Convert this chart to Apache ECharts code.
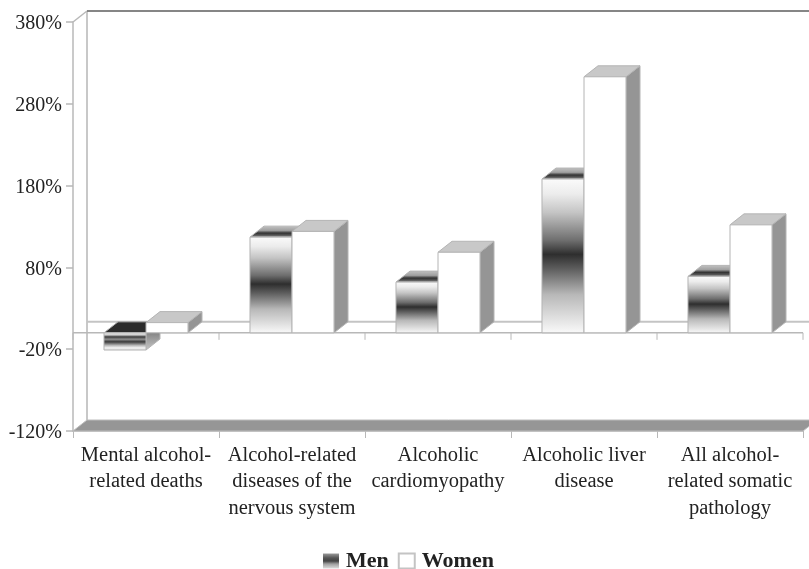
<!DOCTYPE html>
<html>
<head>
<meta charset="utf-8">
<style>html,body{margin:0;padding:0;background:#fff}#chart{width:809px;height:569px}</style>
<script src="https://cdn.jsdelivr.net/npm/echarts@6/dist/echarts.min.js"></script>
</head>
<body>
<div id="chart"></div>
<script>
// Percentage change by cause of death, with a drawn 3D column look.
const categories = [
  'Mental alcohol-\nrelated deaths',
  'Alcohol-related\ndiseases of the\nnervous system',
  'Alcoholic\ncardiomyopathy',
  'Alcoholic liver\ndisease',
  'All alcohol-\nrelated somatic\npathology'
];
const menValues = [-21, 117, 62, 188, 69];
const womenValues = [12.5, 124, 98.5, 313, 132];
const axisMin = -120;
const axisMax = 380;
const axisStep = 100;

const DEPTH_X = 14, DEPTH_Y = 11;
const BAR_SHARE = 0.2877;
const EDGE = '#b4b4b4';
const TEXT = '#222222';
const FONT = '"Liberation Serif", serif';

function vGrad(stops) {
  return {
    type: 'linear', x: 0, y: 0, x2: 0, y2: 1,
    colorStops: stops.map(s => ({ offset: s[0], color: s[1] }))
  };
}
const menFront = vGrad([[0, '#fbfbfb'], [0.1, '#ececec'], [0.22, '#c4c4c4'], [0.4, '#6e6e6e'], [0.49, '#2e2e2e'], [0.58, '#5c5c5c'], [0.75, '#b8b8b8'], [1, '#fafafa']]);
const menFrontNeg = vGrad([[0, '#f4f4f4'], [0.14, '#cfcfcf'], [0.25, '#3a3a3a'], [0.38, '#8e8e8e'], [0.52, '#3a3a3a'], [0.72, '#b8b8b8'], [0.85, '#f2f2f2'], [1, '#d8d8d8']]);
const menTop = vGrad([[0, '#c4c4c4'], [0.4, '#a0a0a0'], [0.62, '#333333'], [0.8, '#555555'], [1, '#b8b8b8']]);
const menSideNeg = vGrad([[0, '#5a5a5a'], [1, '#c8c8c8']]);
const menMarker = vGrad([[0, '#9a9a9a'], [0.3, '#555555'], [0.5, '#444444'], [0.7, '#a0a0a0'], [1, '#dddddd']]);

function poly(points, style) {
  return { type: 'polygon', shape: { points }, style };
}

function barShape(api, offsetSign, front, side, topFill) {
  const i = api.value(0), v = api.value(1);
  const band = api.size([1, 0])[0];
  const w = band * BAR_SHARE;
  const cx = api.coord([i, 0])[0];
  const y0 = api.coord([i, 0])[1];
  const yv = api.coord([i, v])[1];
  const x1 = offsetSign < 0 ? cx - w : cx;
  const x2 = x1 + w;
  const yTop = Math.min(y0, yv), yBot = Math.max(y0, yv);
  const stroke = { stroke: EDGE, lineWidth: 1 };
  return {
    type: 'group',
    children: [
      poly([[x2, yTop], [x2 + DEPTH_X, yTop - DEPTH_Y], [x2 + DEPTH_X, yBot - DEPTH_Y], [x2, yBot]], { fill: side, ...stroke }),
      poly([[x1, yTop], [x1 + DEPTH_X, yTop - DEPTH_Y], [x2 + DEPTH_X, yTop - DEPTH_Y], [x2, yTop]], { fill: topFill, ...stroke }),
      { type: 'rect', shape: { x: x1, y: yTop, width: w, height: yBot - yTop }, style: { fill: front, ...stroke } }
    ]
  };
}

function renderMen(params, api) {
  const neg = api.value(1) < 0;
  return barShape(api, -1, neg ? menFrontNeg : menFront, neg ? menSideNeg : '#8a8a8a', neg ? '#2b2b2b' : menTop);
}
function renderWomen(params, api) {
  return barShape(api, 1, '#ffffff', '#959595', '#c8c8c8');
}

// Back walls, floor and zero plane of the 3D box.
function renderFrame(params, api) {
  const g = params.coordSys;
  const left = g.x, right = g.x + g.width;
  const top = api.coord([0, axisMax])[1];
  const bottom = api.coord([0, axisMin])[1];
  const zero = api.coord([0, 0])[1];
  const line = (x1, y1, x2, y2, stroke, lineWidth) => ({
    type: 'line', shape: { x1, y1, x2, y2 }, style: { stroke, lineWidth }
  });
  const children = [
    line(left + DEPTH_X, top - DEPTH_Y, left + DEPTH_X, bottom - DEPTH_Y, '#c8c8c8', 2),
    line(left + DEPTH_X, top - DEPTH_Y, right + DEPTH_X, top - DEPTH_Y, '#5e5e5e', 1.5),
    line(left, top, left + DEPTH_X, top - DEPTH_Y, '#b8b8b8', 1.5),
    poly([[left, bottom], [left + DEPTH_X, bottom - DEPTH_Y], [right + DEPTH_X, bottom - DEPTH_Y], [right, bottom]], { fill: '#969696', stroke: '#bcbcbc', lineWidth: 1 }),
    line(left + DEPTH_X, zero - DEPTH_Y, right + DEPTH_X, zero - DEPTH_Y, '#c4c4c4', 2),
    line(left, zero, right, zero, '#b8b8b8', 1.5)
  ];
  for (let k = 0; k <= categories.length; k++) {
    const x = left + k * g.width / categories.length;
    children.push(line(x, zero, x, zero + 7, '#b8b8b8', 1));
  }
  return { type: 'group', children };
}

const chart = echarts.init(document.getElementById('chart'), null, { renderer: 'canvas' });
chart.setOption({
  animation: false,
  backgroundColor: '#ffffff',
  textStyle: { fontFamily: FONT },
  grid: { left: 73, right: 6, top: 22, height: 409, containLabel: false },
  legend: {
    data: ['Men', 'Women'],
    left: 318,
    top: 545,
    itemWidth: 16,
    itemHeight: 15,
    itemGap: 9,
    icon: 'rect',
    selectedMode: false,
    textStyle: { fontFamily: FONT, fontWeight: 'bold', fontSize: 22, color: TEXT, padding: [0, 0, 0, 2] }
  },
  xAxis: {
    type: 'category',
    data: categories,
    position: 'bottom',
    axisLine: { onZero: false, lineStyle: { color: '#b8b8b8', width: 1.5 } },
    axisTick: { show: true, length: 7, lineStyle: { color: '#b8b8b8', width: 1 } },
    axisLabel: { interval: 0, fontFamily: FONT, fontSize: 20.5, color: TEXT, lineHeight: 26.5, margin: 11 }
  },
  yAxis: {
    type: 'value',
    min: axisMin,
    max: axisMax,
    interval: axisStep,
    splitLine: { show: false },
    axisLine: { show: true, lineStyle: { color: '#b8b8b8', width: 1.5 } },
    axisTick: { show: true, length: 7, lineStyle: { color: '#b8b8b8', width: 1.5 } },
    axisLabel: { fontFamily: FONT, fontSize: 20, color: TEXT, margin: 11, verticalAlign: 'top', lineHeight: 4, formatter: '{value}%' }
  },
  series: [
    { type: 'custom', name: 'Frame', silent: true, z: 1, clip: false, renderItem: renderFrame, data: [[0, 0]], encode: { x: 0, y: 1 } },
    { type: 'custom', name: 'Men', z: 3, clip: false, renderItem: renderMen,
      itemStyle: { color: menMarker },
      data: menValues.map((v, i) => [i, v]), encode: { x: 0, y: 1 } },
    { type: 'custom', name: 'Women', z: 4, clip: false, renderItem: renderWomen,
      itemStyle: { color: '#ffffff', borderColor: '#c4c4c4', borderWidth: 1.5 },
      data: womenValues.map((v, i) => [i, v]), encode: { x: 0, y: 1 } }
  ]
});
</script>
</body>
</html>
